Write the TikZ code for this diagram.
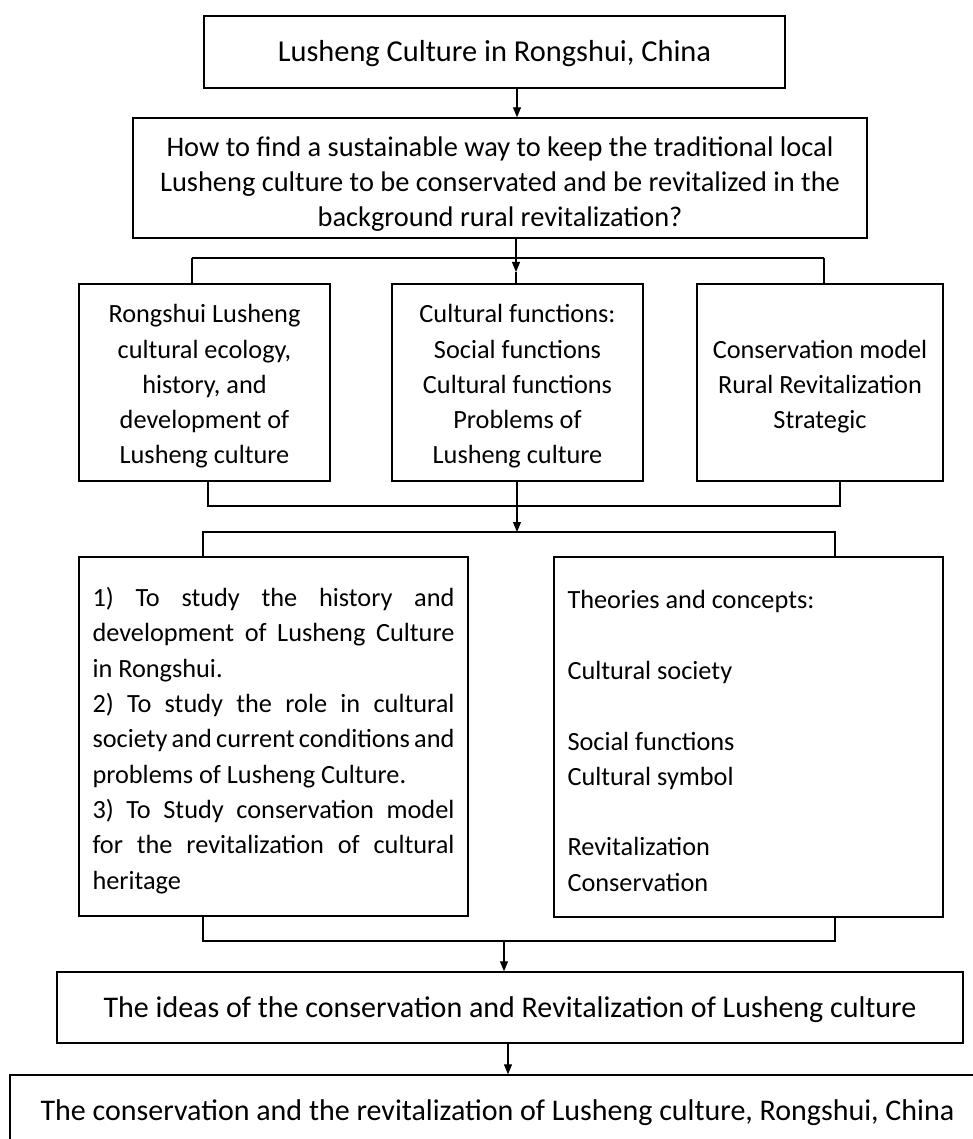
\documentclass[tikz,border=0pt]{standalone}
\usepackage{fontspec}
\setmainfont{Carlito}
\usetikzlibrary{arrows.meta}
\begin{document}
\begin{tikzpicture}[x=1pt,y=-1pt,
  box/.style={draw, line width=1.4pt, inner sep=0pt},
  txt/.style={inner sep=0pt, align=center, font=\fontsize{26.3}{35.3}\selectfont},
  bigtxt/.style={inner sep=0pt, align=center, font=\fontsize{30}{34}\selectfont},
  qtxt/.style={inner sep=0pt, align=center, font=\fontsize{28.4}{35.3}\selectfont},
  conn/.style={line width=1.1pt},
  arr/.style={line width=1.1pt, -{Triangle[length=10pt,width=8pt]}}]
\clip (0,0) rectangle (973,1139);
\fill[white] (0,0) rectangle (973,1139);
% boxes
\node[box, minimum width=581pt, minimum height=72pt] (top) at (494.5,52) {};
\node[box, minimum width=734pt, minimum height=120pt] (q) at (500,178) {};
\node[box, minimum width=251pt, minimum height=197pt] (A) at (204.5,382.5) {};
\node[box, minimum width=251pt, minimum height=197pt] (B) at (517.5,382.5) {};
\node[box, minimum width=246pt, minimum height=197pt] (C) at (820,382.5) {};
\node[box, minimum width=389pt, minimum height=359pt] (D) at (273.5,736.5) {};
\node[box, minimum width=389pt, minimum height=360pt] (E) at (748.5,737) {};
\node[box, minimum width=906pt, minimum height=71pt] (F) at (510,1007.5) {};
\node[box, minimum width=975pt, minimum height=72pt] (G) at (497.5,1111) {};
% texts
\node[bigtxt, font=\fontsize{30.4}{34}\selectfont] (topt) at ([yshift=-2pt]top.center) {Lusheng Culture in Rongshui, China};
\node[qtxt] (qt) at ([yshift=-6pt]q.center) {How to find a sustainable way to keep the traditional local\\ Lusheng culture to be conservated and be revitalized in the\\ background rural revitalization?};
\node[txt] (At) at ([yshift=-4pt]A.center) {Rongshui Lusheng\\ cultural ecology,\\ history, and\\ development of\\ Lusheng culture};
\node[txt] (Bt) at ([yshift=-4pt]B.center) {Cultural functions:\\ Social functions\\ Cultural functions\\ Problems of\\ Lusheng culture};
\node[txt] (Ct) at ([yshift=-4pt]C.center) {Conservation model\\ Rural Revitalization\\ Strategic};
\node[txt, text width=362pt, align=justify] (Dt) at ([yshift=-4pt]D.center) {1) To study the history and\linebreak development of Lusheng Culture\linebreak in Rongshui.\par 2) To study the role in cultural\linebreak society and current conditions and\linebreak problems of Lusheng Culture.\par 3) To Study conservation model\linebreak for the revitalization of cultural\linebreak heritage};
\node[txt, text width=362pt, align=flush left] (Et) at ([yshift=-4pt]E.center) {Theories and concepts:\\ \mbox{}\\ Cultural society\\ \mbox{}\\ Social functions\\ Cultural symbol\\ \mbox{}\\ Revitalization\\ Conservation};
\node[bigtxt] (Ft) at ([yshift=-2pt]F.center) {The ideas of the conservation and Revitalization of Lusheng culture};
\node[bigtxt] (Gt) at ([yshift=-2pt]G.center) {The conservation and the revitalization of Lusheng culture, Rongshui, China};
% helper coordinates
\coordinate (c517) at (517,0);
\coordinate (t1) at (516,272);
\coordinate (b1l) at (192,258);
\coordinate (b1r) at (824,258);
\coordinate (b2l) at (208,506);
\coordinate (b2r) at (840,506);
\coordinate (t2) at (517,532);
\coordinate (b3l) at (203,532);
\coordinate (b3r) at (835,532);
\coordinate (b4l) at (203,941);
\coordinate (b4r) at (835,941);
\coordinate (c504) at (504,941);
\coordinate (c508) at (508,0);
% connectors
\draw[arr] (top.south -| c517) -- (q.north -| c517);
\draw[conn] (b1l) -- (b1r);
\draw[conn] (A.north -| b1l) -- (b1l);
\draw[conn] (C.north -| b1r) -- (b1r);
\draw[arr] (q.south -| t1) -- (t1);
\draw[conn] (t1) -- (B.north -| t1);
\draw[conn] (A.south -| b2l) -- (b2l) -- (b2r) -- (C.south -| b2r);
\draw[arr] (B.south -| t2) -- (t2);
\draw[conn] (D.north -| b3l) -- (b3l) -- (b3r) -- (E.north -| b3r);
\draw[conn] (D.south -| b4l) -- (b4l) -- (b4r) -- (E.south -| b4r);
\draw[arr] (c504) -- (F.north -| c504);
\draw[arr] (F.south -| c508) -- (G.north -| c508);
\end{tikzpicture}
\end{document}
